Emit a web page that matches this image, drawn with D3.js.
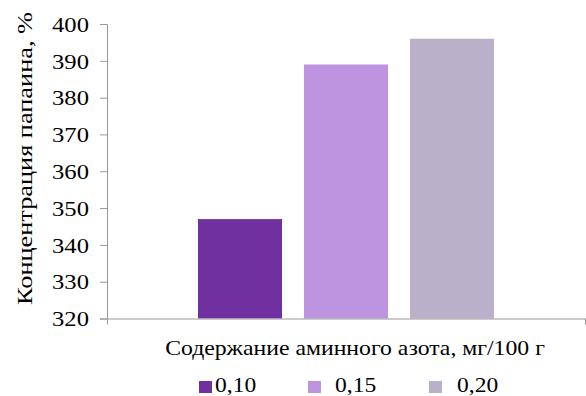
<!DOCTYPE html>
<html>
<head>
<meta charset="utf-8">
<script src="https://cdn.jsdelivr.net/npm/d3@7"></script>
<style>
  html, body { margin: 0; padding: 0; background: #fff; }
  svg { display: block; }
</style>
</head>
<body>
<svg id="chart" width="586" height="396"></svg>
<script>
// Papain concentration vs. amine nitrogen content
const seriesNames = ["0,10", "0,15", "0,20"];
const seriesValues = [347, 389, 396];
const seriesColors = ["#7030A0", "#BE93E0", "#BAB0CA"];
const yTicks = [320, 330, 340, 350, 360, 370, 380, 390, 400];
const yTitle = "Концентрация папаина, %";
const xTitle = "Содержание аминного азота, мг/100 г";

const FONT = '"Liberation Serif"';
const STRETCH = 1.12;   // text is drawn slightly wide, as in the printed figure
const svg = d3.select("#chart");
const plot = { left: 107, right: 585, top: 24, bottom: 318.5 };
const axisColor = "#989898";

const y = d3.scaleLinear().domain([320, 400]).range([plot.bottom, plot.top]);

// bars of the single category group, centred in the plot
const cx = (plot.left + plot.right) / 2;
const x = d3.scaleBand()
  .domain(seriesNames)
  .range([cx - 159, cx + 159])
  .paddingInner(22 / 106)
  .paddingOuter(11 / 106);

svg.append("g").selectAll("rect")
  .data(seriesNames.map((n, i) => ({ n, v: seriesValues[i], c: seriesColors[i] })))
  .join("rect")
  .attr("x", d => x(d.n))
  .attr("y", d => y(d.v))
  .attr("width", x.bandwidth())
  .attr("height", d => y(320) - y(d.v))
  .attr("fill", d => d.c);

// y axis
const yAxis = svg.append("g")
  .attr("transform", `translate(${plot.left},0)`)
  .call(d3.axisLeft(y).tickValues(yTicks).tickSize(7).tickPadding(0).tickFormat(d3.format("d")));
yAxis.attr("font-family", null).attr("font-size", null);
yAxis.select(".domain").attr("stroke", axisColor);
yAxis.selectAll(".tick line").attr("stroke", axisColor);
yAxis.selectAll(".tick text")
  .attr("fill", "#000")
  .attr("x", 0)
  .attr("dy", "0.33em")
  .attr("text-anchor", "end")
  .attr("transform", `translate(-18,0) scale(${STRETCH},1)`)
  .style("font-size", "22px")
  .style("font-family", FONT);

// x axis (category boundaries)
const xb = d3.scaleLinear().domain([0, 1]).range([plot.left, plot.right]);
const xAxis = svg.append("g")
  .attr("transform", `translate(0,${plot.bottom})`)
  .call(d3.axisBottom(xb).tickValues([0, 1]).tickFormat("").tickSize(6).tickSizeOuter(0));
xAxis.select(".domain").attr("stroke", axisColor);
xAxis.selectAll(".tick line").attr("stroke", axisColor);

// axis titles
const yT = svg.append("text")
  .attr("text-anchor", "middle")
  .style("font-family", FONT)
  .style("font-size", "22px")
  .text(yTitle);
const ySx = 293 / yT.node().getComputedTextLength();
yT.attr("transform", `translate(32,${(12 + 305) / 2}) rotate(-90) scale(${ySx},1)`);

const xT = svg.append("text")
  .attr("text-anchor", "middle")
  .style("font-family", FONT)
  .style("font-size", "22px")
  .text(xTitle);
const xSx = 380 / xT.node().getComputedTextLength();
xT.attr("transform", `translate(355,355) scale(${xSx},1)`);

// legend
const legendSwatchX = [199, 308, 429];
const legendTextX = [215, 335, 457];
const lg = svg.append("g");
seriesNames.forEach((n, i) => {
  lg.append("rect")
    .attr("x", legendSwatchX[i]).attr("y", 381)
    .attr("width", 13).attr("height", 12)
    .attr("fill", seriesColors[i]);
  lg.append("text")
    .attr("transform", `translate(${legendTextX[i]},392) scale(${STRETCH},1)`)
    .style("font-family", FONT)
    .style("font-size", "21px")
    .text(n);
});
</script>
</body>
</html>
